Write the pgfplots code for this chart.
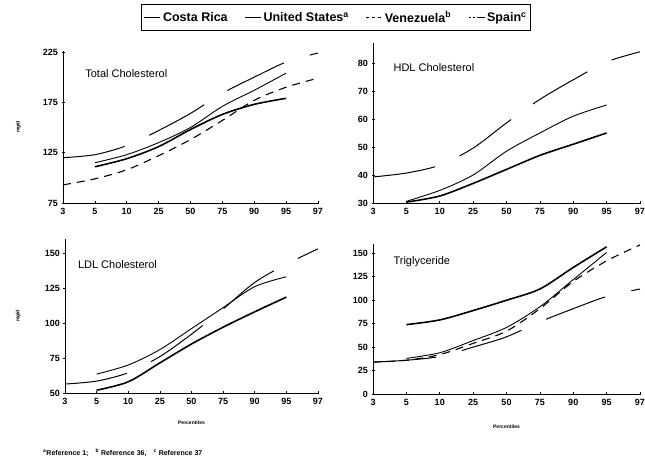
\documentclass[border=0pt]{standalone}
\usepackage{fontspec}
\setmainfont{Liberation Sans}
\usepackage{pgfplots}
\pgfplotsset{compat=1.18}
\tikzset{ttl/.style={anchor=west, font=\fontsize{11}{12}\selectfont}}
\begin{document}
\begin{tikzpicture}
\useasboundingbox (0pt,0pt) rectangle (645pt,460pt);
\pgfplotsset{
  every axis/.append style={
    scale only axis, xmin=0, xmax=8,
    axis x line=bottom, axis y line=left,
    axis line style={-, line width=0.8pt},
    xtick={0,...,8}, xticklabels={3,5,10,25,50,75,90,95,97},
    tick align=center, major tick length=3pt,
    tick style={black, line width=0.7pt},
    ticklabel style={font=\fontsize{9}{10}\selectfont\bfseries},
    /pgf/number format/assume math mode=true,
    clip=false,
  },
  cr/.style={black, line width=1.6pt, smooth, tension=0.5},
  us/.style={black, line width=0.9pt, smooth, tension=0.5},
  ve/.style={black, line width=1.1pt, dash pattern=on 8pt off 6pt, smooth, tension=0.5},
  es/.style={black, line width=1pt, dash pattern=on 63pt off 27pt, smooth, tension=0.5},
}
% ---------------- Total Cholesterol ----------------
\begin{axis}[at={(63pt,257pt)}, anchor=south west, width=255pt, height=152pt,
  ymin=75, ymax=226, ytick={75,125,175,225},
  ylabel={mg/d}, ylabel style={font=\fontsize{5}{6}\selectfont\bfseries, anchor=center, at={(axis description cs:-0.175,0.5)}},
  legend style={at={(axis description cs:0.306,1.309)}, anchor=north west, legend columns=4,
    draw=black, line width=0.9pt, font=\fontsize{12.5}{14}\selectfont\bfseries,
    inner xsep=2pt, inner ysep=5pt,
    /tikz/every even column/.append style={column sep=15pt}, legend cell align=left},
  legend image code/.code={\draw[#1] (0pt,0pt) -- (16pt,0pt);},
]
\addplot[cr, forget plot] coordinates {(1,111)(2,119)(3,131)(4,148)(5,163)(6,173)(7,179)};
\addplot[us, forget plot] coordinates {(1,115)(2,123)(3,135)(4,150)(5,171)(6,187)(7,204)};
\addplot[ve, forget plot] coordinates {(0,93)(1,99)(2,108)(3,122)(4,138)(5,157)(6,177)(7,190)(8,199)};
\addplot[es, forget plot] coordinates {(0,120)(1,123)(2,132)(3,147)(4,164)(5,184)(6,200)(7,215)(8,224)};
\addlegendimage{black, line width=1.6pt}
\addlegendentry{Costa Rica}
\addlegendimage{black, line width=0.9pt}
\addlegendentry{United States\textsuperscript{a}}
\addlegendimage{black, line width=1pt, dash pattern=on 3pt off 3pt}
\addlegendentry{Venezuela\textsuperscript{b}}
\addlegendimage{black, line width=1pt, dash pattern=on 2pt off 2pt on 2pt off 2pt on 8pt off 0pt}
\addlegendentry{Spain\textsuperscript{c}}
\node[ttl] at (axis cs:0.59,204) {Total Cholesterol};
\end{axis}
% ---------------- HDL Cholesterol ----------------
\begin{axis}[at={(373pt,257pt)}, anchor=south west, width=267pt, height=159.6pt,
  ymin=30, ymax=87, ytick={30,40,50,60,70,80}]
\addplot[cr] coordinates {(1,30.3)(2,32.5)(3,37)(4,42)(5,47)(6,51)(7,55)};
\addplot[us] coordinates {(1,30.6)(2,34.5)(3,40)(4,48.5)(5,55)(6,61)(7,65)};
\addplot[es] coordinates {(0,39.3)(1,40.7)(2,43.5)(3,49.6)(4,58.6)(5,67)(6,74)(7,80.4)(8,84)};
\node[ttl] at (axis cs:0.51,78.3) {HDL Cholesterol};
\end{axis}
% ---------------- LDL Cholesterol ----------------
\begin{axis}[at={(65pt,67pt)}, anchor=south west, width=253pt, height=154pt,
  ymin=50, ymax=160, ytick={50,75,100,125,150},
  ylabel={mg/d}, ylabel style={font=\fontsize{5}{6}\selectfont\bfseries, anchor=center, at={(axis description cs:-0.185,0.5)}},
  xlabel={Percentiles}, xlabel style={font=\fontsize{5}{6}\selectfont\bfseries, anchor=center, at={(axis description cs:0.5,-0.195)}}]
\addplot[cr] coordinates {(1,52)(2,58)(3,71.5)(4,85)(5,97)(6,108)(7,118.5)};
\addplot[us] coordinates {(1,63.5)(2,70)(3,81)(4,96)(5,111)(6,126)(7,133)};
\addplot[es] coordinates {(0,56.4)(1,58.5)(2,64.5)(3,76)(4,92)(5,110)(6,129)(7,142)(8,153)};
\node[ttl] at (axis cs:0.3,142) {LDL Cholesterol};
\end{axis}
% ---------------- Triglyceride ----------------
\begin{axis}[at={(373pt,66pt)}, anchor=south west, width=267pt, height=150pt,
  ymin=0, ymax=160, ytick={0,25,50,75,100,125,150},
  xlabel={Percentiles}, xlabel style={font=\fontsize{5}{6}\selectfont\bfseries, anchor=center, at={(axis description cs:0.5,-0.22)}}]
\addplot[cr] coordinates {(1,74)(2,79)(3,89)(4,100)(5,112)(6,135)(7,157)};
\addplot[us] coordinates {(1,38)(2,44)(3,57)(4,71)(5,93)(6,122)(7,151)};
\addplot[ve] coordinates {(0,34)(1,36)(2,42)(3,54)(4,67)(5,91)(6,120)(7,142)(8,159)};
\addplot[es] coordinates {(0,34)(1,36)(2,40)(3,50)(4,61)(5,77)(6,91)(7,104)(8,112)};
\node[ttl] at (axis cs:0.51,141) {Triglyceride};
\end{axis}
\node[anchor=west, font=\fontsize{7}{8}\selectfont\bfseries, inner sep=0pt] at (43pt,7pt)
  {\textsuperscript{a}Reference 1;\quad \textsuperscript{b} Reference 36,\quad \textsuperscript{c}\ Reference 37};
\end{tikzpicture}
\end{document}
